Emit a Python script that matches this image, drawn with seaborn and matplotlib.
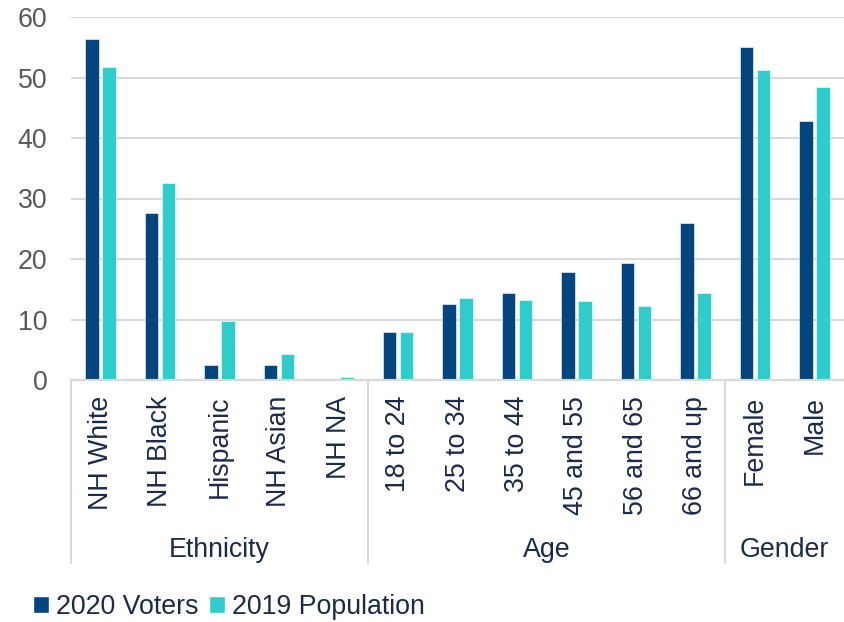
import numpy as np
import pandas as pd
import seaborn as sns
import matplotlib.pyplot as plt
from matplotlib.patches import Patch

# ---------------------------------------------------------
# Voter vs population shares by group
# ---------------------------------------------------------
categories = ["NH White", "NH Black", "Hispanic", "NH Asian", "NH NA",
              "18 to 24", "25 to 34", "35 to 44", "45 and 55", "56 and 65", "66 and up",
              "Female", "Male"]
voters_2020 = [56.4, 27.6, 2.5, 2.5, 0.0,
               7.9, 12.5, 14.3, 17.8, 19.4, 25.9,
               55.1, 42.8]
population_2019 = [51.8, 32.5, 9.8, 4.3, 0.45,
                   8.0, 13.6, 13.2, 13.1, 12.2, 14.3,
                   51.3, 48.5]
series_names = ["2020 Voters", "2019 Population"]
groups = ["Ethnicity", "Age", "Gender"]
group_sizes = [5, 6, 2]
yticks = [0, 10, 20, 30, 40, 50, 60]

df = pd.DataFrame({
    "Category": categories * 2,
    "Series": [series_names[0]] * len(categories) + [series_names[1]] * len(categories),
    "Value": voters_2020 + population_2019,
})

# ---------------------------------------------------------
# Styling
# ---------------------------------------------------------
sns.set_style("white")
plt.rcParams["font.family"] = ["Liberation Sans", "DejaVu Sans"]

navy = "#03467F"
teal = "#2ECDCB"
grid_c = "#D9D9D9"
text_c = "#1C2A4A"
tick_c = "#595959"
fs = 19.3

fig = plt.figure(figsize=(8.44, 6.22), dpi=100)
ax = fig.add_axes([71 / 844, 1 - 380 / 622, 773 / 844, 363 / 622])

sns.barplot(data=df, x="Category", y="Value", hue="Series",
            order=categories, hue_order=series_names,
            palette=[navy, teal], saturation=1, width=0.57, gap=0.2,
            edgecolor="white", linewidth=0.4, legend=False, ax=ax)

ax.set_ylim(0, 60)
ax.set_xlim(-0.5, len(categories) - 0.5)
ax.set_yticks(yticks)
ax.yaxis.grid(True, color=grid_c, linewidth=1.5)
ax.set_axisbelow(True)
for s in ["top", "right", "left"]:
    ax.spines[s].set_visible(False)
ax.spines["bottom"].set_color(grid_c)
ax.spines["bottom"].set_linewidth(1.5)

ax.tick_params(axis="y", length=0, pad=17, labelsize=fs, labelcolor=tick_c)
ax.tick_params(axis="x", length=0, pad=11.5, labelsize=fs, labelcolor=text_c)
plt.setp(ax.get_xticklabels(), rotation=90)
ax.set_xlabel("")
ax.set_ylabel("")

# group separators and labels under the category ticks
trans = ax.get_xaxis_transform()
edges = np.concatenate([[0], np.cumsum(group_sizes)]) - 0.5
for xe in edges[:-1]:
    ax.plot([xe, xe], [0, -183 / 363], transform=trans, color=grid_c,
            linewidth=1.5, clip_on=False)
for name, a, b in zip(groups, edges[:-1], edges[1:]):
    ax.text((a + b) / 2, -170 / 363, name, transform=trans, ha="center",
            va="center", fontsize=fs, color=text_c)

handles = [Patch(facecolor=navy, label=series_names[0]),
           Patch(facecolor=teal, label=series_names[1])]
leg = fig.legend(handles=handles, loc="center left",
                 bbox_to_anchor=(33 / 844, 1 - 607 / 622), ncol=2,
                 frameon=False, fontsize=fs, handlelength=0.58, handleheight=0.6,
                 handletextpad=0.27, columnspacing=0.4, borderpad=0,
                 borderaxespad=0)
for t in leg.get_texts():
    t.set_color(text_c)

fig.savefig("out.png", dpi=100)
plt.close(fig)
